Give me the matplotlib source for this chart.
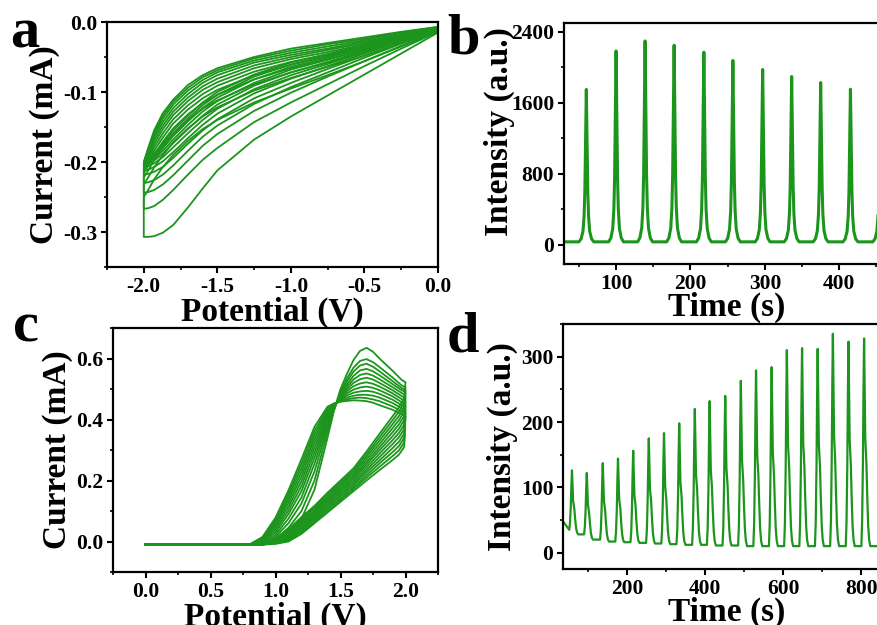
import matplotlib.pyplot as plt
from matplotlib.ticker import MultipleLocator

W, H = 877, 625
GREEN = '#1c951c'

# ---- panel a: CV cycles, 0 -> -2 V (forward = upper branch, back = lower branch with hook)
a_potential = [0.0, -0.25, -0.5, -0.75, -1.0, -1.25, -1.5, -1.6, -1.7, -1.8, -1.87, -1.93, -1.97, -2.0]
a_forward = [
    [-0.013, -0.035, -0.056, -0.076, -0.095, -0.115, -0.140, -0.153, -0.170, -0.190, -0.207, -0.225, -0.240, -0.250],
    [-0.012, -0.030, -0.048, -0.064, -0.080, -0.098, -0.122, -0.135, -0.152, -0.172, -0.190, -0.208, -0.222, -0.232],
    [-0.011, -0.027, -0.043, -0.058, -0.072, -0.089, -0.112, -0.124, -0.140, -0.160, -0.179, -0.197, -0.212, -0.222],
    [-0.011, -0.025, -0.040, -0.053, -0.066, -0.082, -0.104, -0.116, -0.132, -0.152, -0.171, -0.190, -0.205, -0.216],
    [-0.010, -0.023, -0.037, -0.049, -0.061, -0.076, -0.097, -0.109, -0.125, -0.145, -0.165, -0.184, -0.200, -0.212],
    [-0.010, -0.022, -0.035, -0.046, -0.057, -0.071, -0.091, -0.103, -0.119, -0.139, -0.159, -0.179, -0.196, -0.209],
    [-0.009, -0.020, -0.032, -0.043, -0.053, -0.066, -0.086, -0.097, -0.113, -0.133, -0.153, -0.174, -0.192, -0.206],
    [-0.009, -0.019, -0.030, -0.040, -0.050, -0.062, -0.081, -0.092, -0.108, -0.128, -0.148, -0.169, -0.189, -0.204],
    [-0.008, -0.018, -0.028, -0.038, -0.047, -0.058, -0.076, -0.087, -0.103, -0.123, -0.143, -0.165, -0.186, -0.203],
    [-0.008, -0.016, -0.026, -0.035, -0.044, -0.055, -0.072, -0.083, -0.098, -0.118, -0.138, -0.161, -0.184, -0.202],
    [-0.007, -0.015, -0.024, -0.032, -0.041, -0.052, -0.069, -0.079, -0.094, -0.114, -0.134, -0.158, -0.182, -0.201],
    [-0.007, -0.014, -0.022, -0.030, -0.038, -0.050, -0.066, -0.076, -0.090, -0.111, -0.130, -0.155, -0.180, -0.200],
]
a_back = [
    [-0.015, -0.045, -0.075, -0.105, -0.135, -0.168, -0.212, -0.238, -0.265, -0.290, -0.301, -0.306, -0.307, -0.307],
    [-0.014, -0.038, -0.063, -0.089, -0.115, -0.143, -0.180, -0.197, -0.218, -0.240, -0.254, -0.263, -0.266, -0.267],
    [-0.013, -0.034, -0.056, -0.078, -0.101, -0.127, -0.160, -0.177, -0.198, -0.219, -0.232, -0.240, -0.243, -0.244],
    [-0.012, -0.031, -0.051, -0.072, -0.093, -0.117, -0.148, -0.164, -0.184, -0.205, -0.218, -0.226, -0.229, -0.230],
    [-0.012, -0.029, -0.048, -0.067, -0.087, -0.109, -0.139, -0.155, -0.174, -0.194, -0.207, -0.214, -0.217, -0.218],
    [-0.011, -0.027, -0.045, -0.063, -0.081, -0.102, -0.131, -0.147, -0.166, -0.186, -0.199, -0.207, -0.211, -0.212],
    [-0.011, -0.026, -0.043, -0.060, -0.076, -0.096, -0.124, -0.140, -0.159, -0.179, -0.193, -0.202, -0.206, -0.208],
    [-0.010, -0.025, -0.041, -0.057, -0.072, -0.091, -0.118, -0.134, -0.153, -0.173, -0.188, -0.198, -0.203, -0.205],
    [-0.010, -0.024, -0.039, -0.054, -0.068, -0.087, -0.113, -0.128, -0.147, -0.168, -0.184, -0.195, -0.201, -0.203],
    [-0.010, -0.023, -0.037, -0.051, -0.064, -0.082, -0.108, -0.123, -0.142, -0.163, -0.180, -0.192, -0.199, -0.202],
    [-0.009, -0.022, -0.035, -0.048, -0.061, -0.078, -0.104, -0.119, -0.138, -0.159, -0.177, -0.190, -0.198, -0.201],
    [-0.009, -0.021, -0.033, -0.046, -0.058, -0.075, -0.100, -0.115, -0.134, -0.155, -0.174, -0.188, -0.197, -0.200],
]

# ---- panel b: ECL intensity peaks
b_peak_time = [60, 100, 139, 178, 218, 257, 297, 336, 375, 415, 455]
b_peak_height = [1750, 2185, 2298, 2249, 2170, 2077, 1975, 1896, 1828, 1753, 1700]
b_baseline = 30
b_shape_dt = [-10, -7, -4.5, -3, -2, -1, 0, 1, 2, 3, 4.5, 7, 10]
b_shape_frac = [0, 0.02, 0.07, 0.17, 0.33, 0.65, 1.0, 0.65, 0.33, 0.17, 0.07, 0.02, 0]

# ---- panel c: CV cycles, 0 -> 2 V
c_potential = [0.0, 0.8, 0.9, 1.0, 1.1, 1.2, 1.3, 1.4, 1.45, 1.5, 1.55, 1.6, 1.65, 1.7, 1.75, 1.8, 1.9, 1.97, 2.0]
c_forward = [
    [-0.01, -0.01, -0.008, 0.000, 0.030, 0.075, 0.170, 0.340, 0.430, 0.500, 0.550, 0.595, 0.625, 0.635, 0.622, 0.600, 0.560, 0.530, 0.522],
    [-0.01, -0.01, -0.006, 0.008, 0.045, 0.100, 0.200, 0.360, 0.430, 0.490, 0.535, 0.570, 0.592, 0.598, 0.588, 0.572, 0.538, 0.512, 0.505],
    [-0.01, -0.01, -0.004, 0.015, 0.060, 0.125, 0.230, 0.375, 0.435, 0.485, 0.525, 0.557, 0.577, 0.583, 0.573, 0.558, 0.526, 0.503, 0.496],
    [-0.01, -0.01, -0.002, 0.022, 0.075, 0.145, 0.255, 0.385, 0.437, 0.480, 0.515, 0.543, 0.561, 0.566, 0.558, 0.545, 0.516, 0.496, 0.490],
    [-0.01, -0.01, 0.000, 0.030, 0.090, 0.165, 0.275, 0.395, 0.440, 0.478, 0.507, 0.531, 0.546, 0.551, 0.544, 0.532, 0.506, 0.487, 0.480],
    [-0.01, -0.01, 0.002, 0.038, 0.102, 0.182, 0.292, 0.403, 0.442, 0.475, 0.500, 0.520, 0.532, 0.537, 0.531, 0.520, 0.496, 0.477, 0.470],
    [-0.01, -0.01, 0.004, 0.046, 0.114, 0.198, 0.308, 0.410, 0.444, 0.472, 0.493, 0.509, 0.518, 0.522, 0.517, 0.508, 0.486, 0.467, 0.460],
    [-0.01, -0.01, 0.006, 0.053, 0.126, 0.213, 0.323, 0.417, 0.446, 0.469, 0.486, 0.498, 0.505, 0.508, 0.504, 0.496, 0.476, 0.457, 0.450],
    [-0.01, -0.01, 0.008, 0.060, 0.137, 0.228, 0.337, 0.424, 0.448, 0.466, 0.479, 0.488, 0.492, 0.494, 0.491, 0.484, 0.465, 0.447, 0.440],
    [-0.01, -0.01, 0.010, 0.066, 0.148, 0.242, 0.350, 0.430, 0.450, 0.463, 0.472, 0.478, 0.481, 0.481, 0.478, 0.472, 0.454, 0.437, 0.430],
    [-0.01, -0.01, 0.012, 0.072, 0.158, 0.256, 0.363, 0.436, 0.451, 0.460, 0.466, 0.470, 0.472, 0.470, 0.466, 0.460, 0.443, 0.427, 0.420],
    [-0.01, -0.01, 0.015, 0.078, 0.168, 0.270, 0.376, 0.442, 0.453, 0.458, 0.461, 0.463, 0.462, 0.460, 0.455, 0.447, 0.432, 0.417, 0.410],
]
# reverse scans, from just below 2.0 V back to 0 V
c_back_potential = [0.0, 0.8, 0.9, 1.0, 1.1, 1.2, 1.3, 1.4, 1.5, 1.6, 1.7, 1.8, 1.9, 1.95, 1.99]
c_back = [
    [-0.01, -0.01, -0.008, 0.010, 0.040, 0.080, 0.117, 0.160, 0.200, 0.240, 0.295, 0.353, 0.410, 0.440, 0.470],
    [-0.01, -0.01, -0.008, 0.008, 0.036, 0.075, 0.112, 0.154, 0.193, 0.233, 0.286, 0.342, 0.397, 0.426, 0.455],
    [-0.01, -0.01, -0.008, 0.007, 0.033, 0.070, 0.107, 0.148, 0.187, 0.226, 0.278, 0.331, 0.384, 0.412, 0.441],
    [-0.01, -0.01, -0.009, 0.005, 0.029, 0.065, 0.101, 0.142, 0.181, 0.219, 0.269, 0.320, 0.371, 0.398, 0.426],
    [-0.01, -0.01, -0.009, 0.004, 0.025, 0.060, 0.096, 0.136, 0.174, 0.212, 0.260, 0.309, 0.358, 0.384, 0.412],
    [-0.01, -0.01, -0.009, 0.002, 0.022, 0.055, 0.091, 0.130, 0.168, 0.206, 0.252, 0.299, 0.345, 0.370, 0.398],
    [-0.01, -0.01, -0.009, 0.001, 0.018, 0.050, 0.086, 0.124, 0.162, 0.199, 0.243, 0.288, 0.332, 0.356, 0.383],
    [-0.01, -0.01, -0.010, -0.001, 0.014, 0.045, 0.081, 0.118, 0.155, 0.192, 0.234, 0.277, 0.319, 0.342, 0.369],
    [-0.01, -0.01, -0.010, -0.003, 0.011, 0.040, 0.076, 0.112, 0.149, 0.185, 0.226, 0.266, 0.306, 0.327, 0.354],
    [-0.01, -0.01, -0.010, -0.005, 0.007, 0.035, 0.070, 0.106, 0.142, 0.178, 0.217, 0.256, 0.293, 0.313, 0.340],
    [-0.01, -0.01, -0.010, -0.006, 0.004, 0.030, 0.065, 0.100, 0.136, 0.172, 0.209, 0.245, 0.280, 0.299, 0.325],
    [-0.01, -0.01, -0.010, -0.008, 0.000, 0.025, 0.060, 0.095, 0.130, 0.165, 0.200, 0.234, 0.267, 0.285, 0.310],
]

# ---- panel d: ECL intensity over a longer run
d_peak_time = [58, 96, 137, 176, 215, 255, 294, 333, 373, 411, 451, 491, 530, 570, 609, 648, 688, 727, 767, 807]
d_peak_height = [126, 122, 137, 144, 156, 175, 183, 198, 220, 232, 240, 263, 279, 284, 310, 313, 312, 335, 323, 328]
d_floor = [35, 28, 20, 17, 16, 15, 14, 13, 12, 12, 11, 11, 10, 10, 10, 10, 10, 10, 10, 10, 10]
d_start = 48
d_shape_dt = [-7, -5, -3, -1.5, 0, 1.5, 3, 4.5, 6, 8, 10.5, 13, 16]
d_shape_frac = [0, 0.12, 0.4, 0.75, 1.0, 0.75, 0.52, 0.46, 0.4, 0.25, 0.1, 0.03, 0]


def pulse_train(times, heights, floors, dts, fracs, t0, t1, start_level):
    xs, ys = [t0], [start_level]
    for i, (tp, h) in enumerate(zip(times, heights)):
        lo, hi = floors[i], floors[i + 1]
        for dt, f in zip(dts, fracs):
            base = lo if dt < 0 else hi
            xs.append(tp + dt)
            ys.append(base + f * (h - base))
    xs.append(t1)
    ys.append(floors[-1])
    return xs, ys


plt.rcParams['font.family'] = ['Liberation Serif', 'DejaVu Serif']
plt.rcParams['font.weight'] = 'bold'
plt.rcParams['axes.unicode_minus'] = False

fig = plt.figure(figsize=(W / 100, H / 100), dpi=100)


def add_axes(left, top, right, bottom):
    return fig.add_axes([left / W, 1 - bottom / H, (right - left) / W, (bottom - top) / H])


def style(ax, xmaj, xmin, ymaj, ymin, open_right=False):
    for s in ax.spines.values():
        s.set_linewidth(1.6)
    if open_right:
        ax.spines['right'].set_visible(False)
    ax.xaxis.set_major_locator(MultipleLocator(xmaj))
    ax.xaxis.set_minor_locator(MultipleLocator(xmin))
    ax.yaxis.set_major_locator(MultipleLocator(ymaj))
    ax.yaxis.set_minor_locator(MultipleLocator(ymin))
    ax.tick_params(which='major', direction='out', length=4, width=1.5, labelsize=15.5, pad=3)
    ax.tick_params(which='minor', direction='out', length=2.5, width=1.2)
    ax.tick_params(top=False, right=False, which='both')
    for lab in ax.get_xticklabels() + ax.get_yticklabels():
        lab.set_fontweight('bold')


# panel a
ax = add_axes(107, 22, 438, 267)
for fwd, back in zip(a_forward, a_back):
    ax.plot(a_potential + a_potential[::-1], fwd + back[::-1], color=GREEN, lw=1.3)
ax.set_xlim(-2.25, 0.0)
ax.set_ylim(-0.35, 0.0)
style(ax, 0.5, 0.25, 0.1, 0.05)
ax.xaxis.set_major_formatter(lambda v, p: f'{v:.1f}')
ax.yaxis.set_major_formatter(lambda v, p: f'{v:.1f}')
ax.set_xlabel('Potential (V)', fontsize=24, fontweight='bold', labelpad=0)
ax.set_ylabel('Current (mA)', fontsize=24, fontweight='bold', labelpad=2)

# panel b
ax = add_axes(564, 23, 564 + (482 - 30) * 0.744, 264)
bt, bi = pulse_train(b_peak_time, b_peak_height, [b_baseline] * (len(b_peak_time) + 1),
                     b_shape_dt, b_shape_frac, 30, 482, b_baseline)
ax.plot(bt, bi, color=GREEN, lw=2.2)
ax.set_xlim(30, 482)
ax.set_ylim(-220, 2500)
style(ax, 100, 50, 800, 400, open_right=True)
ax.set_xlabel('Time (s)', fontsize=24, fontweight='bold', labelpad=0)
ax.xaxis.set_label_coords((727 - 564) / 336.3, -0.116)
ax.set_ylabel('Intensity (a.u.)', fontsize=24, fontweight='bold', labelpad=0)
ax.yaxis.set_label_coords(-0.145, 0.55)

# panel c
ax = add_axes(113, 328, 438, 572)
for fwd, back in zip(c_forward, c_back):
    xs = c_potential + c_back_potential[::-1]
    ys = fwd + back[::-1]
    ax.plot(xs, ys, color=GREEN, lw=1.3)
ax.set_xlim(-0.25, 2.25)
ax.set_ylim(-0.1, 0.7)
style(ax, 0.5, 0.25, 0.2, 0.1)
ax.xaxis.set_major_formatter(lambda v, p: f'{v:.1f}')
ax.yaxis.set_major_formatter(lambda v, p: f'{v:.1f}')
ax.set_xlabel('Potential (V)', fontsize=24, fontweight='bold', labelpad=0)
ax.set_ylabel('Current (mA)', fontsize=24, fontweight='bold', labelpad=2)

# panel d
ax = add_axes(563, 324, 563 + (900 - 35) * 0.39, 569)
dt_, di = pulse_train(d_peak_time, d_peak_height, d_floor, d_shape_dt, d_shape_frac, 35, 900, d_start)
ax.plot(dt_, di, color=GREEN, lw=1.6)
ax.set_xlim(35, 900)
ax.set_ylim(-25, 350)
style(ax, 200, 100, 100, 50, open_right=True)
ax.set_xlabel('Time (s)', fontsize=24, fontweight='bold', labelpad=0)
ax.xaxis.set_label_coords((727 - 563) / 337.4, -0.112)
ax.set_ylabel('Intensity (a.u.)', fontsize=24, fontweight='bold', labelpad=0)
ax.yaxis.set_label_coords(-0.133, 0.5)

# panel letters
for letter, x, y in [('a', 10, 47), ('b', 447, 53), ('c', 13, 342), ('d', 447, 352)]:
    fig.text(x / W, 1 - y / H, letter, fontsize=42, fontweight='bold', va='baseline', ha='left')

fig.savefig('out.png', dpi=100)
